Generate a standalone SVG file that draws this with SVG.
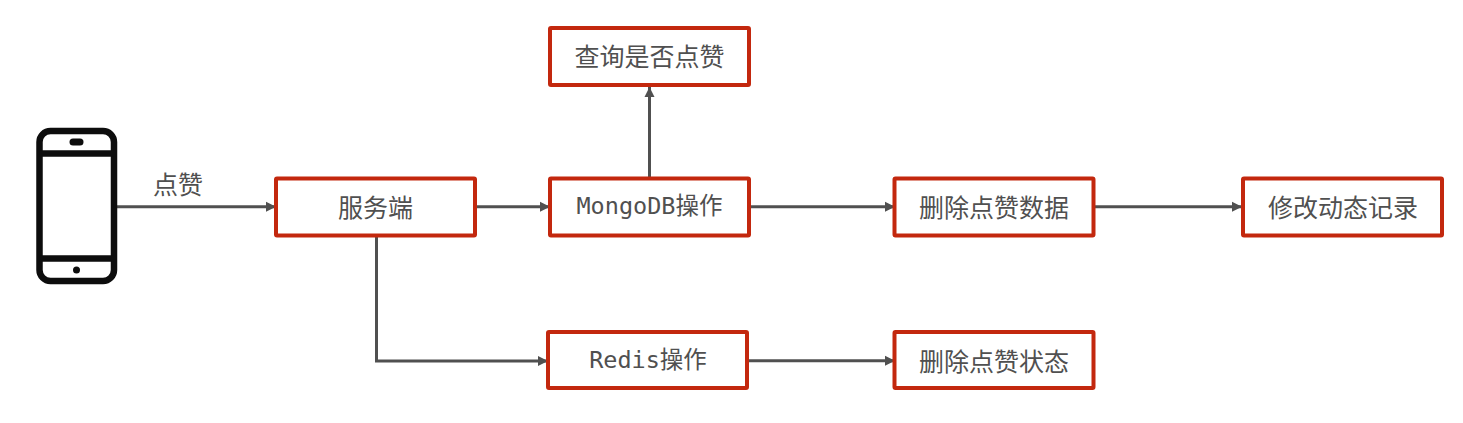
<svg xmlns="http://www.w3.org/2000/svg" width="1463" height="423" viewBox="0 0 1463 423">
<style>
.box{fill:#fff;stroke:#c3280e;stroke-width:4;}
.t{font-family:"Noto Sans CJK SC","Noto Sans CJK JP",sans-serif;font-size:25px;fill:#505050;text-anchor:middle;dominant-baseline:central;}
.m{font-family:"DejaVu Sans Mono","Liberation Mono","Noto Sans CJK SC",monospace;font-size:23.500px;}
.c{fill:none;stroke:#505050;stroke-width:3;}
</style>
<defs>
<marker id="a" markerUnits="userSpaceOnUse" markerWidth="11" markerHeight="11" refX="10" refY="5.5" orient="auto"><path d="M0 0.5L10 5.5L0 10.5Z" fill="#505050"/></marker>
</defs>
<rect width="1463" height="423" fill="#fff"/>
<g id="connectors">
<path class="c" marker-end="url(#a)" d="M117 206.700H276"/>
<path class="c" marker-end="url(#a)" d="M476 206.700H550"/>
<path class="c" marker-end="url(#a)" d="M649.500 178V87"/>
<path class="c" marker-end="url(#a)" d="M750 206.700H895"/>
<path class="c" marker-end="url(#a)" d="M1095 206.700H1242"/>
<path class="c" marker-end="url(#a)" d="M376.500 236V361H548"/>
<path class="c" marker-end="url(#a)" d="M748 360.700H895"/>
</g>
<g id="phone" fill="none" stroke="#0d0d0d" stroke-width="6.500">
<rect x="39.500" y="131" width="74.500" height="150" rx="11"/>
<path d="M39.500 153.500H114M39.500 258.500H114"/>
<rect x="69.500" y="138.500" width="14" height="7" rx="3.500" fill="#0d0d0d" stroke="none"/>
<circle cx="76.500" cy="270" r="3.500" fill="#0d0d0d" stroke="none"/>
</g>
<text class="t" x="178" y="183">点赞</text>
<g id="n1"><rect class="box" x="276" y="178.500" width="199" height="57" rx="1"/><text class="t" x="375.500" y="205.500">服务端</text></g>
<g id="n2"><rect class="box" x="550" y="178.500" width="199" height="57" rx="1"/><text class="t m" x="649.500" y="205.500">MongoDB操作</text></g>
<g id="n3"><rect class="box" x="550" y="28" width="199" height="57" rx="1"/><text class="t" x="649.500" y="55">查询是否点赞</text></g>
<g id="n4"><rect class="box" x="894.500" y="178.500" width="199" height="57" rx="1"/><text class="t" x="994" y="205.500">删除点赞数据</text></g>
<g id="n5"><rect class="box" x="1243" y="178.500" width="199" height="57" rx="1"/><text class="t" x="1343" y="205.500">修改动态记录</text></g>
<g id="n6"><rect class="box" x="548" y="332" width="199" height="56" rx="1"/><text class="t m" x="648" y="359.500">Redis操作</text></g>
<g id="n7"><rect class="box" x="894.500" y="332" width="199" height="56" rx="1"/><text class="t" x="994" y="359.500">删除点赞状态</text></g>
</svg>
